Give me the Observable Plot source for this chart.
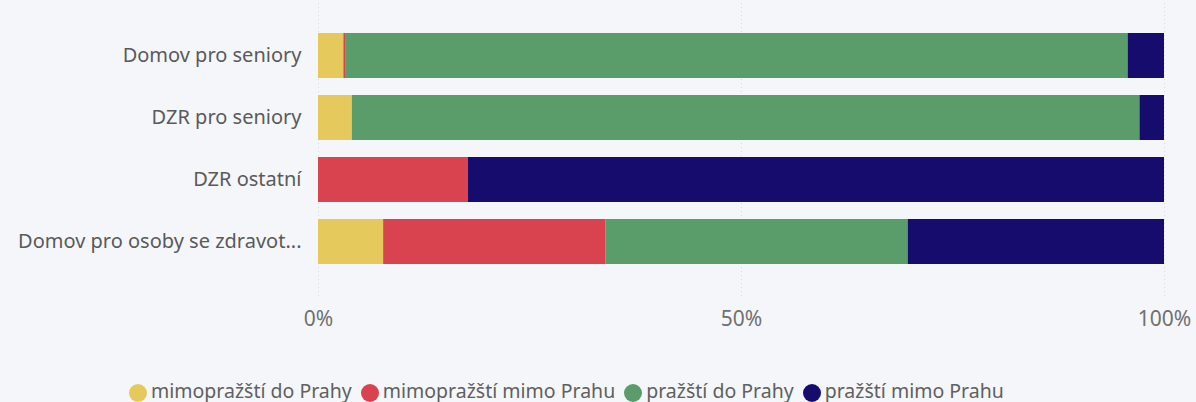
<!DOCTYPE html>
<html>
<head>
<meta charset="utf-8">
<script src="https://cdn.jsdelivr.net/npm/d3@7"></script>
<script src="https://cdn.jsdelivr.net/npm/@observablehq/plot@0.6"></script>
<style>
  html, body { margin: 0; padding: 0; background: #f4f6f9; }
  body { width: 1196px; height: 402px; overflow: hidden; font-family: "Noto Sans", sans-serif; position: relative; }
  #legend { position: absolute; left: 129px; top: 378px; display: flex; gap: 9px; font-size: 19.5px; line-height: 26px; color: #606060; white-space: nowrap; }
  .item { display: flex; align-items: center; }
  .dot { width: 18px; height: 18px; border-radius: 50%; margin-right: 4px; display: inline-block; position: relative; top: 2px; }
</style>
</head>
<body>
<div id="chart"></div>
<div id="legend"></div>
<script>
const categories = ["Domov pro seniory", "DZR pro seniory", "DZR ostatní", "Domov pro osoby se zdravot..."];
const series = ["mimopražští do Prahy", "mimopražští mimo Prahu", "pražští do Prahy", "pražští mimo Prahu"];
const colors = ["#e5c95c", "#d8434f", "#5a9d6a", "#150c6d"];
const mimoDoPrahy   = [3.0, 4.0, 0,    7.7];
const mimoMimoPrahu = [0.2, 0,   17.7, 26.3];
const prazDoPrahy   = [92.5, 93.1, 0,  35.7];
const prazMimoPrahu = [4.3, 2.9, 82.3, 30.3];
const xTicks = [0, 0.5, 1];

const valueArrays = [mimoDoPrahy, mimoMimoPrahu, prazDoPrahy, prazMimoPrahu];
const data = [];
categories.forEach((c, i) => {
  series.forEach((s, j) => data.push({category: c, series: s, value: valueArrays[j][i]}));
});

const chart = Plot.plot({
  width: 1196,
  height: 345,
  marginLeft: 318,
  marginRight: 32,
  marginTop: 15,
  marginBottom: 62,
  style: {background: "transparent", fontFamily: "Noto Sans, sans-serif"},
  x: {domain: [0, 1], ticks: xTicks, tickFormat: d => Math.round(d * 100) + "%", label: null},
  y: {domain: categories, padding: 0.27, label: null},
  color: {domain: series, range: colors},
  marks: [
    Plot.ruleX(xTicks, {stroke: "#d6dae2", strokeDasharray: "1,3", insetTop: -12, insetBottom: -14}),
    Plot.barX(data, Plot.stackX({offset: "normalize", x: "value", y: "category", fill: "series", order: series})),
    Plot.axisX({ticks: xTicks, tickSize: 0, tickPadding: 28, fontSize: 21, color: "#707070", tickFormat: d => Math.round(d * 100) + "%"}),
    Plot.axisY({tickSize: 0, tickPadding: 17, fontSize: 20, color: "#5a5a5a"})
  ]
});
document.getElementById("chart").appendChild(chart);

const legend = document.getElementById("legend");
series.forEach((s, i) => {
  const item = document.createElement("div");
  item.className = "item";
  const dot = document.createElement("span");
  dot.className = "dot";
  dot.style.background = colors[i];
  item.appendChild(dot);
  item.appendChild(document.createTextNode(s));
  legend.appendChild(item);
});
</script>
</body>
</html>
